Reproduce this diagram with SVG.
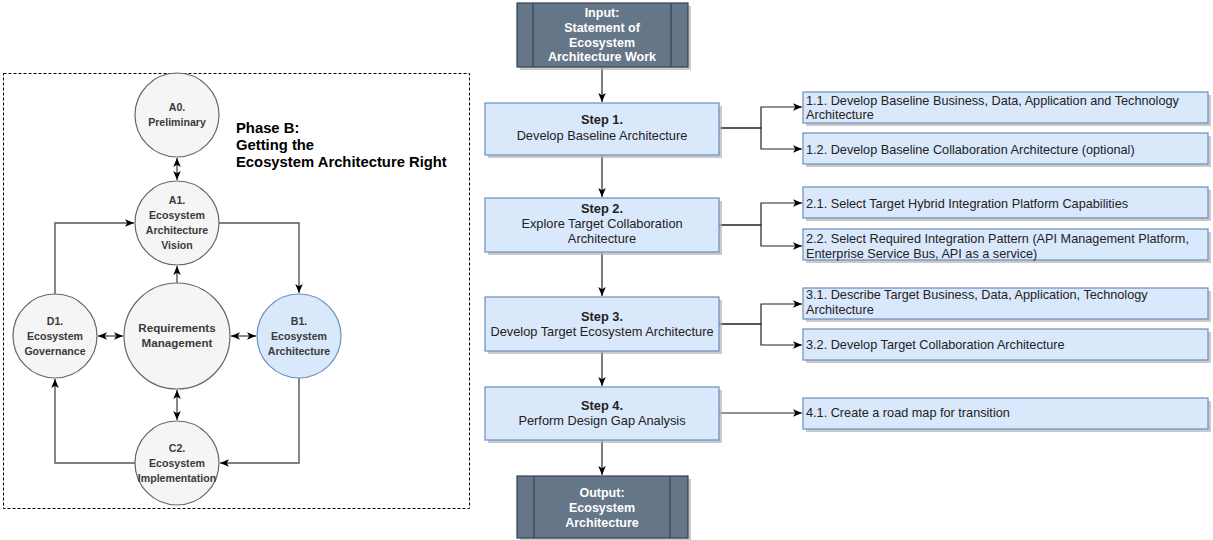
<svg xmlns="http://www.w3.org/2000/svg" width="1213" height="540" viewBox="0 0 1213 540">
  <style>
    .circle { fill: #f5f5f5; stroke: #666666; stroke-width: 1.2; }
    .circle.blue { fill: #dae8fc; stroke: #6c8ebf; }
    .ctext { font-family: "Liberation Sans", Arial, sans-serif; font-size: 10.6px; font-weight: bold; fill: #3a3a3a; text-anchor: middle; }
    .ctext.big { font-size: 11.6px; }
    .title { font-family: "Liberation Sans", Arial, sans-serif; font-size: 14.8px; font-weight: bold; fill: #000000; }
    .step { fill: #dae8fc; stroke: #6c8ebf; stroke-width: 1.2; }
    .shadow { fill: #b3b3b3; opacity: 0.7; }
    .proc { fill: #647687; stroke: #314354; stroke-width: 1.2; }
    .procline { stroke: #314354; stroke-width: 1.2; fill: none; }
    .ptext { font-family: "Liberation Sans", Arial, sans-serif; font-size: 12.5px; font-weight: bold; fill: #ffffff; text-anchor: middle; }
    .stext { font-family: "Liberation Sans", Arial, sans-serif; font-size: 12.8px; fill: #222222; text-anchor: middle; }
    .bold { font-weight: bold; }
    .ltext { font-family: "Liberation Sans", Arial, sans-serif; font-size: 12.7px; fill: #222222; }
    .edge { fill: none; stroke: #555555; stroke-width: 1.4; }
    .flow { fill: none; stroke: #222222; stroke-width: 1.2; }
    .frame { fill: none; stroke: #000000; stroke-width: 1; stroke-dasharray: 3 2; }
  </style>
  <defs>
    <marker id="arrow" viewBox="0 0 10 10" refX="10" refY="5" markerWidth="9" markerHeight="9" markerUnits="userSpaceOnUse" orient="auto-start-reverse">
      <path d="M0,0.8 L10,5 L0,9.2 L2.5,5 z" fill="#000000"/>
    </marker>
  </defs>

  <!-- dashed frame around the phase cycle -->
  <rect class="frame" x="3.5" y="73.5" width="466" height="435"/>

  <text class="title" x="236" y="133">Phase B:</text>
  <text class="title" x="236" y="150">Getting the</text>
  <text class="title" x="236" y="167">Ecosystem Architecture Right</text>

  <!-- connectors -->
  <g id="connectors">
    <!-- cycle -->
    <line class="edge" x1="177" y1="158" x2="177" y2="180" marker-start="url(#arrow)" marker-end="url(#arrow)"/>
    <line class="edge" x1="177" y1="283" x2="177" y2="266" marker-end="url(#arrow)"/>
    <path class="edge" d="M219,223 H299 V293" marker-end="url(#arrow)"/>
    <path class="edge" d="M55,294 V223 H134" marker-end="url(#arrow)"/>
    <line class="edge" x1="98" y1="336" x2="123" y2="336" marker-start="url(#arrow)" marker-end="url(#arrow)"/>
    <line class="edge" x1="231" y1="336" x2="256" y2="336" marker-start="url(#arrow)" marker-end="url(#arrow)"/>
    <line class="edge" x1="177" y1="390" x2="177" y2="420" marker-start="url(#arrow)" marker-end="url(#arrow)"/>
    <path class="edge" d="M299,378 V463 H220" marker-end="url(#arrow)"/>
    <path class="edge" d="M135,463 H55 V379" marker-end="url(#arrow)"/>

    <!-- main flow -->
    <line class="flow" x1="602" y1="67" x2="602" y2="102" marker-end="url(#arrow)"/>
    <line class="flow" x1="602" y1="155" x2="602" y2="197" marker-end="url(#arrow)"/>
    <line class="flow" x1="602" y1="252" x2="602" y2="296" marker-end="url(#arrow)"/>
    <line class="flow" x1="602" y1="351" x2="602" y2="386" marker-end="url(#arrow)"/>
    <line class="flow" x1="602" y1="440" x2="602" y2="475" marker-end="url(#arrow)"/>

    <!-- sub-steps -->
    <path class="flow" d="M719,128 H761 V107 H802" marker-end="url(#arrow)"/>
    <path class="flow" d="M719,128 H761 V149 H802" marker-end="url(#arrow)"/>
    <path class="flow" d="M719,225 H761 V203 H802" marker-end="url(#arrow)"/>
    <path class="flow" d="M719,225 H761 V246 H802" marker-end="url(#arrow)"/>
    <path class="flow" d="M719,324 H761 V304 H802" marker-end="url(#arrow)"/>
    <path class="flow" d="M719,324 H761 V345 H802" marker-end="url(#arrow)"/>
    <line class="flow" x1="719" y1="413" x2="802" y2="413" marker-end="url(#arrow)"/>
  </g>

  <!-- phase cycle nodes -->
  <g id="a0">
    <circle class="circle" cx="177" cy="115" r="42"/>
    <text class="ctext" x="177" y="111">A0.</text>
    <text class="ctext" x="177" y="126">Preliminary</text>
  </g>
  <g id="a1">
    <circle class="circle" cx="177" cy="223" r="42"/>
    <text class="ctext" x="177" y="204">A1.</text>
    <text class="ctext" x="177" y="219">Ecosystem</text>
    <text class="ctext" x="177" y="234">Architecture</text>
    <text class="ctext" x="177" y="249">Vision</text>
  </g>
  <g id="req">
    <circle class="circle" cx="177" cy="336" r="53"/>
    <text class="ctext big" x="177" y="332">Requirements</text>
    <text class="ctext big" x="177" y="347">Management</text>
  </g>
  <g id="d1">
    <circle class="circle" cx="55" cy="336" r="42"/>
    <text class="ctext" x="55" y="325">D1.</text>
    <text class="ctext" x="55" y="340">Ecosystem</text>
    <text class="ctext" x="55" y="355">Governance</text>
  </g>
  <g id="b1">
    <circle class="circle blue" cx="299" cy="336" r="42"/>
    <text class="ctext" x="299" y="325">B1.</text>
    <text class="ctext" x="299" y="340">Ecosystem</text>
    <text class="ctext" x="299" y="355">Architecture</text>
  </g>
  <g id="c2">
    <circle class="circle" cx="177" cy="463" r="42"/>
    <text class="ctext" x="177" y="452">C2.</text>
    <text class="ctext" x="177" y="467">Ecosystem</text>
    <text class="ctext" x="177" y="482">Implementation</text>
  </g>

  <!-- main flow nodes -->
  <g id="input">
    <rect class="shadow" x="520" y="6" width="171" height="64"/>
    <rect class="proc" x="517" y="3" width="171" height="64"/>
    <line class="procline" x1="533" y1="3" x2="533" y2="67"/>
    <line class="procline" x1="671" y1="3" x2="671" y2="67"/>
    <text class="ptext" x="602" y="17">Input:</text>
    <text class="ptext" x="602" y="32">Statement of</text>
    <text class="ptext" x="602" y="47">Ecosystem</text>
    <text class="ptext" x="602" y="61">Architecture Work</text>
  </g>
  <g id="step1">
    <rect class="shadow" x="488" y="106" width="234" height="52"/>
    <rect class="step" x="485" y="103" width="234" height="52"/>
    <text class="stext bold" x="602" y="124">Step 1.</text>
    <text class="stext" x="602" y="140">Develop Baseline Architecture</text>
  </g>
  <g id="step2">
    <rect class="shadow" x="488" y="201" width="234" height="54"/>
    <rect class="step" x="485" y="198" width="234" height="54"/>
    <text class="stext bold" x="602" y="213">Step 2.</text>
    <text class="stext" x="602" y="228">Explore Target Collaboration</text>
    <text class="stext" x="602" y="243">Architecture</text>
  </g>
  <g id="step3">
    <rect class="shadow" x="488" y="300" width="234" height="54"/>
    <rect class="step" x="485" y="297" width="234" height="54"/>
    <text class="stext bold" x="602" y="321">Step 3.</text>
    <text class="stext" x="602" y="336">Develop Target Ecosystem Architecture</text>
  </g>
  <g id="step4">
    <rect class="shadow" x="488" y="390" width="234" height="53"/>
    <rect class="step" x="485" y="387" width="234" height="53"/>
    <text class="stext bold" x="602" y="410">Step 4.</text>
    <text class="stext" x="602" y="425">Perform Design Gap Analysis</text>
  </g>
  <g id="output">
    <rect class="shadow" x="520" y="479" width="171" height="62"/>
    <rect class="proc" x="517" y="476" width="171" height="62"/>
    <line class="procline" x1="534" y1="476" x2="534" y2="538"/>
    <line class="procline" x1="670" y1="476" x2="670" y2="538"/>
    <text class="ptext" x="602" y="497">Output:</text>
    <text class="ptext" x="602" y="512">Ecosystem</text>
    <text class="ptext" x="602" y="527">Architecture</text>
  </g>

  <!-- sub-step nodes -->
  <g id="s11">
    <rect class="shadow" x="806" y="95" width="405" height="31"/>
    <rect class="step" x="803" y="92" width="405" height="31"/>
    <text class="ltext" x="806" y="105">1.1. Develop Baseline Business, Data, Application and Technology</text>
    <text class="ltext" x="806" y="119">Architecture</text>
  </g>
  <g id="s12">
    <rect class="shadow" x="806" y="136" width="405" height="31"/>
    <rect class="step" x="803" y="133" width="405" height="31"/>
    <text class="ltext" x="806" y="154">1.2. Develop Baseline Collaboration Architecture (optional)</text>
  </g>
  <g id="s21">
    <rect class="shadow" x="806" y="190" width="405" height="31"/>
    <rect class="step" x="803" y="187" width="405" height="31"/>
    <text class="ltext" x="806" y="208">2.1. Select Target Hybrid Integration Platform Capabilities</text>
  </g>
  <g id="s22">
    <rect class="shadow" x="806" y="232" width="405" height="31"/>
    <rect class="step" x="803" y="229" width="405" height="31"/>
    <text class="ltext" x="806" y="243">2.2. Select Required Integration Pattern (API Management Platform,</text>
    <text class="ltext" x="806" y="258">Enterprise Service Bus, API as a service)</text>
  </g>
  <g id="s31">
    <rect class="shadow" x="806" y="291" width="405" height="31"/>
    <rect class="step" x="803" y="288" width="405" height="31"/>
    <text class="ltext" x="806" y="299">3.1. Describe Target Business, Data, Application, Technology</text>
    <text class="ltext" x="806" y="314">Architecture</text>
  </g>
  <g id="s32">
    <rect class="shadow" x="806" y="332" width="405" height="31"/>
    <rect class="step" x="803" y="329" width="405" height="31"/>
    <text class="ltext" x="806" y="349">3.2. Develop Target Collaboration Architecture</text>
  </g>
  <g id="s41">
    <rect class="shadow" x="806" y="401" width="405" height="31"/>
    <rect class="step" x="803" y="398" width="405" height="31"/>
    <text class="ltext" x="806" y="417">4.1. Create a road map for transition</text>
  </g>
</svg>
